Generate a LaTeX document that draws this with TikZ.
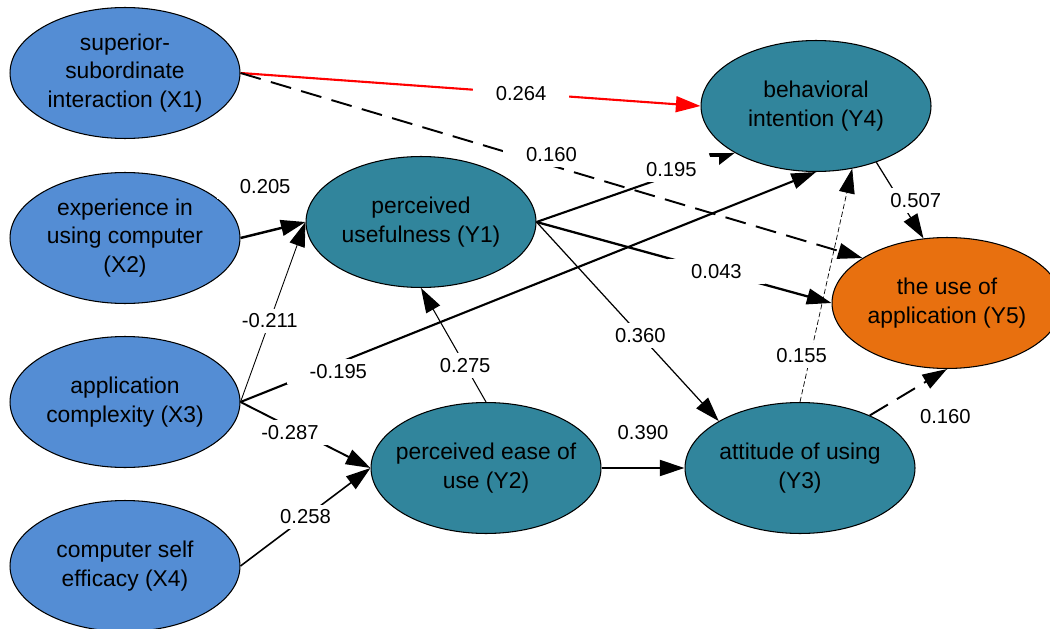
\documentclass[tikz,border=0pt]{standalone}
\usepackage{fontspec}
\setmainfont{Liberation Sans}
\usetikzlibrary{shapes.geometric, arrows.meta}

\definecolor{exoblue}{HTML}{548DD4}
\definecolor{endoteal}{HTML}{31859C}
\definecolor{outorange}{HTML}{E8700F}

\newcommand{\semfont}{\fontsize{13pt}{16.4pt}\selectfont}
\newcommand{\coeffont}{\fontsize{11.5pt}{13pt}\selectfont}

\tikzset{
    exo/.style={ellipse, draw, line width=0.6pt, fill=exoblue, minimum width=4.6cm, minimum height=2.62cm, inner xsep=-1cm, inner ysep=0pt, align=center, font=\semfont},
    endo/.style={exo, fill=endoteal},
    outc/.style={exo, fill=outorange},
    coef/.style={fill=white, inner xsep=13pt, inner ysep=3pt, font=\coeffont},
    longdash/.style={dash pattern=on 12pt off 6pt, line width=1.1pt},
    >={Triangle[length=14pt, width=9pt]}
}

\begin{document}
\begin{tikzpicture}[x=0.02cm, y=-0.02cm]
        \useasboundingbox (0, 0) rectangle (1050, 628);

        \node (x1) at (125, 73) [exo] {superior-\\subordinate\\interaction (X1)};
        \node (x2) at (125, 238) [exo] {experience in\\using computer\\(X2)};
        \node (x3) at (125, 402) [exo] {application\\complexity (X3)};
        \node (x4) at (125, 566) [exo] {computer self\\efficacy (X4)};

        \node (y1) at (421, 222) [endo] {perceived\\usefulness (Y1)};
        \node (y2) at (486, 468) [endo] {perceived ease of\\use (Y2)};
        \node (y3) at (800, 468) [endo] {attitude of using\\(Y3)};
        \node (y4) at (816, 106) [endo] {behavioral\\intention (Y4)};
        \node (y5) at (947, 303) [outc] {the use of\\application (Y5)};

        \draw[->, red, line width=1.2pt] (x1.east) -- node[coef, pos=0.61, text=black] {0.264} (y4.west);
        \draw[->, longdash] (x1.east) -- node[coef, pos=0.5, yshift=6pt] {0.160} (y5.152);
        \draw[->, line width=1.4pt] (x2.east) -- node[coef, pos=0.38, yshift=26pt] {0.205} (y1.west);
        \draw[->, line width=0.5pt] (x3.east) -- node[coef, pos=0.45] {-0.211} (y1.west);
        \draw[->, line width=1.2pt] (x3.east) -- node[coef, pos=0.17, yshift=-5pt] {-0.195} (y4.south);
        \draw[->, line width=1.1pt] (x3.east) -- node[coef, pos=0.38, yshift=-3pt] {-0.287} (y2.west);
        \draw[->, line width=0.9pt] (x4.east) -- node[coef, pos=0.5] {0.258} (y2.west);

        \draw[->, line width=0.6pt] (y2.north) -- node[coef, pos=0.32] {0.275} (y1.south);
        \draw[->, line width=1.2pt] (y1.east) -- node[coef, pos=0.68, yshift=3pt] {0.195} (y4.210);
        \draw[->, line width=1.3pt] (y1.east) -- node[coef, pos=0.61] {0.043} (y5.west);
        \draw[->, line width=0.7pt] (y1.east) -- node[coef, pos=0.57] {0.360} (y3.150);
        \draw[->, line width=1.4pt] (y2.east) -- node[coef, pos=0.5, yshift=20pt] {0.390} (y3.west);
        \draw[->, dash pattern=on 3pt off 1.5pt, line width=0.4pt] (y3.north) -- node[coef, pos=0.2, xshift=-5pt] {0.155} (y4.300);
        \draw[->, longdash] (y3.37) -- node[coef, pos=0.5, xshift=21pt, yshift=-14pt] {0.160} (y5.south);
        \draw[->, line width=0.7pt] (y4.317) -- node[coef, pos=0.5, xshift=9pt] {0.507} (y5.110);

\end{tikzpicture}
\end{document}
